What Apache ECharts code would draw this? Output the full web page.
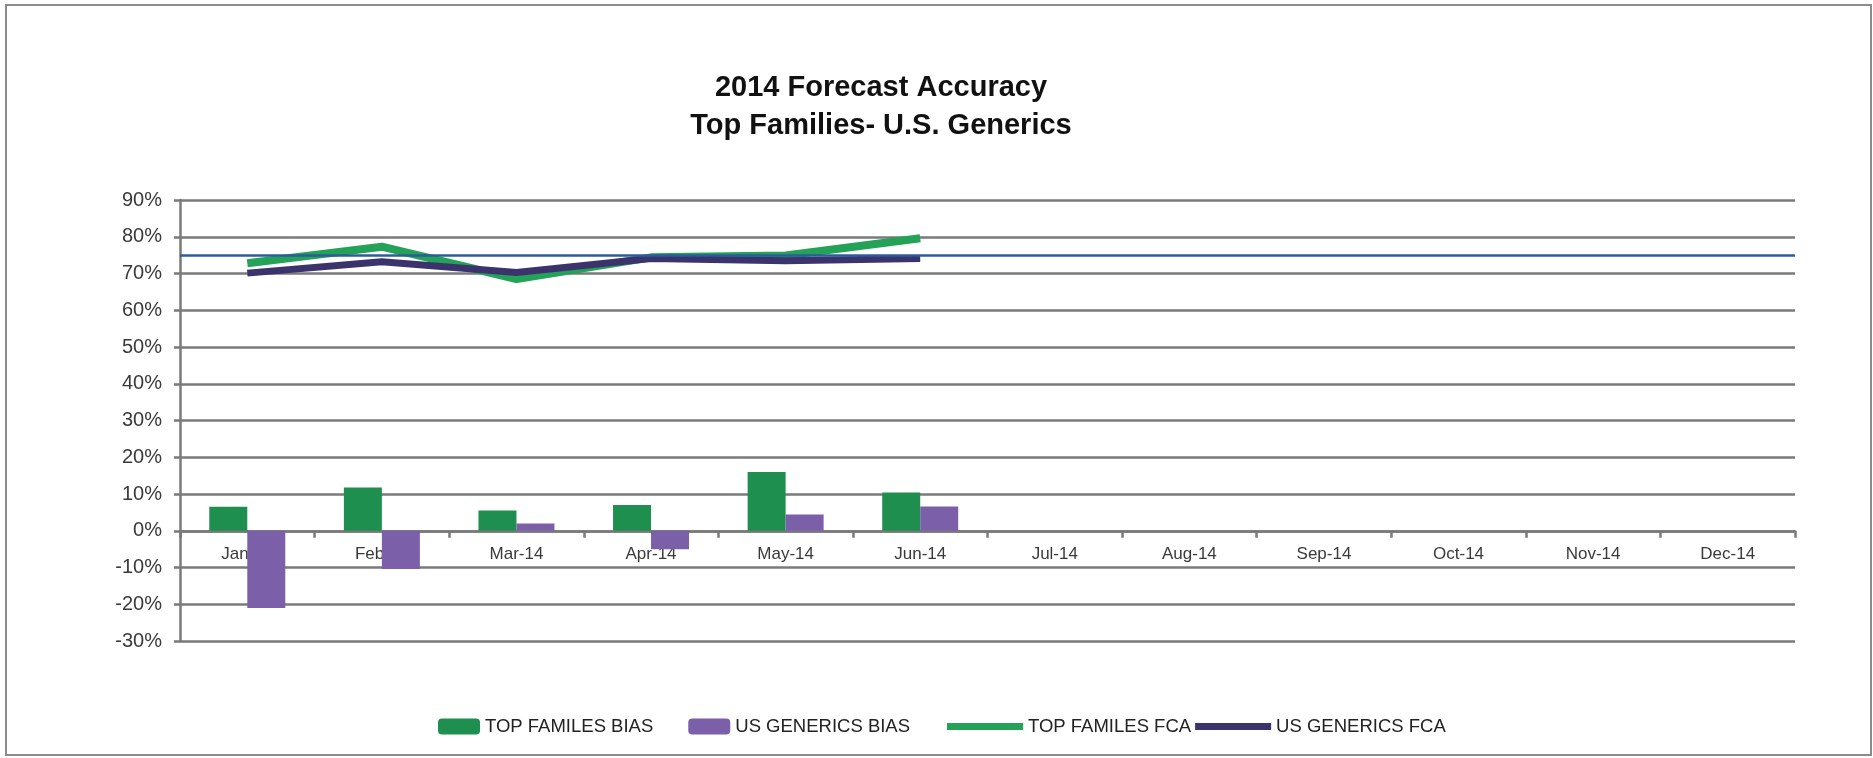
<!DOCTYPE html>
<html>
<head>
<meta charset="utf-8">
<title>2014 Forecast Accuracy</title>
<script src="https://cdn.jsdelivr.net/npm/echarts@6/dist/echarts.min.js"></script>
<style>
html, body { margin: 0; padding: 0; background: #fff; }
#chartDiv { width: 1873px; height: 758px; }
</style>
</head>
<body>
<div id="chartDiv"></div>
<script>
// months on the x axis
var months = ['Jan-14', 'Feb-14', 'Mar-14', 'Apr-14', 'May-14', 'Jun-14',
	'Jul-14', 'Aug-14', 'Sep-14', 'Oct-14', 'Nov-14', 'Dec-14'];
// bias bars (%)
var topFamBias = [6.5, 11.8, 5.5, 7.0, 16.0, 10.4, null, null, null, null, null, null];
var usGenBias = [-21.0, -10.4, 2.0, -5.0, 4.4, 6.6, null, null, null, null, null, null];
// forecast accuracy lines (%)
var topFamFca = [72.8, 77.3, 68.5, 74.4, 74.9, 79.6, null, null, null, null, null, null];
var usGenFca = [70.1, 73.2, 70.3, 74.1, 73.5, 74.1, null, null, null, null, null, null];
// target line (%)
var targetFca = 75;

var seriesNames = ['TOP FAMILES BIAS', 'US GENERICS BIAS', 'TOP FAMILES FCA', 'US GENERICS FCA'];

var app = {};
app.font = 'Liberation Sans, Arial, sans-serif';
app.gridColor = '#7a7a7a';
app.green = '#1f8f4f';
app.purple = '#7c5fa9';
app.lineGreen = '#24a257';
app.lineDark = '#3b346c';

app.chart = echarts.init(document.getElementById('chartDiv'));

// thin bar used as legend icon for the lines
var lineIcon = 'path://M0,0 L74,0 L74,7 L0,7 Z';

var option = {
	backgroundColor: '#fff',
	animation: false,
	textStyle: { fontFamily: app.font },
	title: {
		text: '2014 Forecast Accuracy\nTop Families- U.S. Generics',
		left: 876,
		top: 64,
		textAlign: 'center',
		textStyle: { fontSize: 29, fontWeight: 'bold', color: '#111', lineHeight: 38, fontFamily: app.font }
	},
	graphic: [{
		type: 'rect',
		shape: { x: 6, y: 5, width: 1865, height: 750 },
		style: { fill: 'none', stroke: '#8c8c8c', lineWidth: 2 },
		silent: true
	}],
	legend: [{
		data: [seriesNames[0], seriesNames[1]],
		left: 433,
		top: 712,
		itemGap: 35,
		itemWidth: 42,
		itemHeight: 16,
		textStyle: { fontSize: 18.5, color: '#222', fontFamily: app.font }
	}, {
		data: [
			{ name: seriesNames[2], icon: lineIcon },
			{ name: seriesNames[3], icon: lineIcon }
		],
		left: 942,
		top: 712,
		itemGap: 4,
		itemWidth: 76,
		itemHeight: 16,
		symbolKeepAspect: true,
		textStyle: { fontSize: 18.5, color: '#222', fontFamily: app.font }
	}],
	grid: { left: 180, right: 78, top: 200, bottom: 117 },
	xAxis: {
		type: 'category',
		data: months,
		axisLine: { onZero: true, lineStyle: { color: app.gridColor, width: 2.5 } },
		axisTick: { show: true, length: 7, lineStyle: { color: app.gridColor, width: 2.5 } },
		// labels sit just under the zero line, as in the original
		axisLabel: { fontSize: 17, color: '#3a3a3a', margin: -95 },
		splitLine: { show: false }
	},
	yAxis: {
		type: 'value',
		min: -30,
		max: 90,
		interval: 10,
		axisLine: { show: true, lineStyle: { color: app.gridColor, width: 2.5 } },
		axisTick: { show: true, length: 6, lineStyle: { color: app.gridColor, width: 2.5 } },
		axisLabel: { fontSize: 20, color: '#3a3a3a', margin: 18, formatter: '{value}%' },
		splitLine: { show: true, lineStyle: { color: app.gridColor, width: 2.5 } }
	},
	series: [{
		name: seriesNames[0],
		type: 'bar',
		data: topFamBias,
		barWidth: 38,
		barGap: '0%',
		itemStyle: { color: app.green }
	}, {
		name: seriesNames[1],
		type: 'bar',
		data: usGenBias,
		barWidth: 38,
		itemStyle: { color: app.purple }
	}, {
		name: seriesNames[2],
		type: 'line',
		data: topFamFca,
		symbol: 'none',
		lineStyle: { color: app.lineGreen, width: 8 },
		itemStyle: { color: app.lineGreen }
	}, {
		name: seriesNames[3],
		type: 'line',
		data: usGenFca,
		symbol: 'none',
		lineStyle: { color: app.lineDark, width: 7 },
		itemStyle: { color: app.lineDark },
		markLine: {
			silent: true,
			symbol: 'none',
			label: { show: false },
			lineStyle: { color: '#2d5b9c', width: 2.5, type: 'solid' },
			data: [{ yAxis: targetFca }]
		}
	}]
};

app.chart.setOption(option);
</script>
</body>
</html>
